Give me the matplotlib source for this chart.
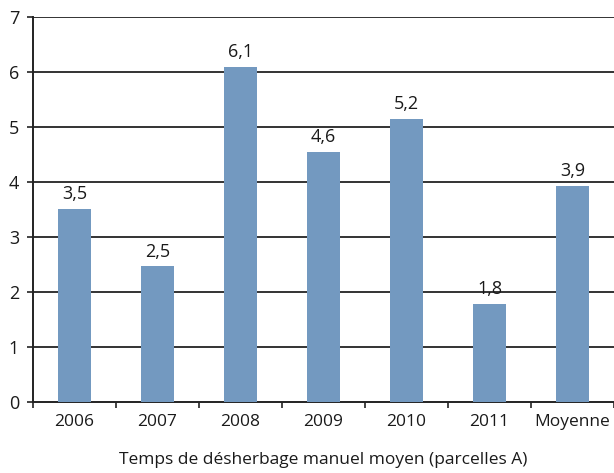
import matplotlib
matplotlib.use("Agg")
import matplotlib.pyplot as plt
import numpy as np

categories = ["2006", "2007", "2008", "2009", "2010", "2011", "Moyenne"]
values = [3.51, 2.47, 6.1, 4.55, 5.15, 1.79, 3.93]
value_labels = ["3,5", "2,5", "6,1", "4,6", "5,2", "1,8", "3,9"]
yticks = [0, 1, 2, 3, 4, 5, 6, 7]
xlabel = "Temps de désherbage manuel moyen (parcelles A)"

plt.rcParams['font.family'] = ['Open Sans', 'DejaVu Sans']

fig = plt.figure(figsize=(6.14, 4.73), dpi=100)
ax = fig.add_axes([33/614, 1-402/473, 1-33/614, (402-17)/473])

x = np.arange(len(categories))
ax.bar(x, values, width=0.4, color="#7399c0", zorder=3)
for xi, v, lab in zip(x, values, value_labels):
    ax.text(xi, v + 0.1, lab, ha="center", va="bottom", fontsize=13, color="#1a1a1a")

ax.set_xlim(-0.5, len(categories) - 0.5)
ax.set_ylim(0, 7)
ax.set_yticks(yticks)
ax.set_yticklabels([str(t) for t in yticks], fontsize=13, color="#1a1a1a")
for t in yticks[1:]:
    ax.axhline(t, color="#333333", lw=1.4, zorder=1)

ax.set_xticks(x)
ax.set_xticklabels(categories, fontsize=12.5, color="#1a1a1a")
ax.set_xticks(np.arange(-0.5, len(categories)), minor=True)
ax.tick_params(axis="x", which="major", length=0, pad=9)
ax.tick_params(axis="x", which="minor", length=4, width=1.2, direction="out", color="#222222")
ax.tick_params(axis="y", length=4, width=1.2, color="#222222", pad=6)

for s in ["top", "right"]:
    ax.spines[s].set_visible(False)
ax.spines["left"].set_linewidth(1.4)
ax.spines["bottom"].set_linewidth(1.4)
ax.spines["left"].set_color("#222222")
ax.spines["bottom"].set_color("#222222")

fig.text((33 + 614) / 2 / 614, 1 - 460/473, xlabel, ha="center", va="center", fontsize=12.5, color="#1a1a1a")

fig.savefig("out.png", dpi=100)
